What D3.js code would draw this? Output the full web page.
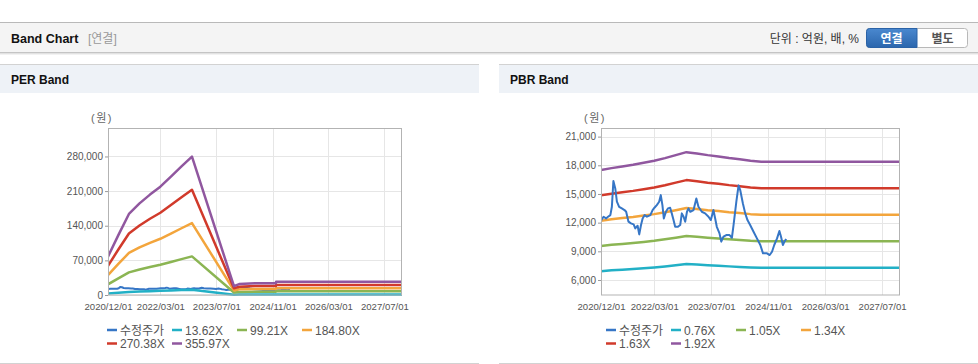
<!DOCTYPE html>
<html><head><meta charset="utf-8">
<script src="https://cdn.jsdelivr.net/npm/d3@7"></script>
<style>
html,body{margin:0;padding:0;background:#fff;overflow:hidden;}
svg text{font-family:"Liberation Sans","Noto Sans CJK KR",Arial,sans-serif;}
</style></head><body>
<svg id="c" width="978" height="364"></svg>
<script>
// ---------- DATA ----------
const xTickLabels = ["2020/12/01","2022/03/01","2023/07/01","2024/11/01","2026/03/01","2027/07/01"];
const seriesColors = ["#3676c6","#22b0c6","#8bb553","#f3a53c","#d13a2b","#90579f"];

const perLegend = ["수정주가","13.62X","99.21X","184.80X","270.38X","355.97X"];
const perDates = ["2020-12-01","2021-03-01","2021-06-01","2021-09-01","2021-12-01","2022-03-01","2022-06-01","2022-09-01","2022-12-01","2023-12-01","2024-01-15","2024-06-01","2024-11-30","2024-12-01","2027-12-01"];
const per1362 = [2969,4631,6265,7082,7763,8376,9153,9943,10705,681,844,906,906,1022,1022];
const per9921 = [21628,33731,45637,51589,56550,61014,66669,72423,77979,4961,6151,6597,6597,7441,7441];
const per18480 = [40286,62832,85008,96096,105336,113652,124186,134904,145253,9240,11458,12289,12289,13860,13860];
const per27038 = [58943,91929,124375,140598,154117,166284,181695,197377,212519,13519,16764,17980,17980,20279,20279];
const per35597 = [77601,121030,163746,185104,202903,218922,239212,259858,279792,17799,22070,23672,23672,26698,26698];
const perYTicks = [0,70000,140000,210000,280000];

const pbrLegend = ["수정주가","0.76X","1.05X","1.34X","1.63X","1.92X"];
const pbrDates = ["2020-12-01","2021-03-01","2021-06-01","2021-09-01","2021-12-01","2022-03-01","2022-06-01","2022-09-01","2022-12-01","2023-03-01","2023-06-01","2023-09-01","2023-12-01","2024-03-01","2024-06-01","2024-09-01","2027-12-01"];
const pbr076 = [6925,7008,7076,7146,7228,7311,7421,7546,7670,7614,7546,7494,7425,7372,7311,7270,7270];
const pbr105 = [9568,9682,9777,9872,9987,10101,10253,10425,10597,10520,10425,10353,10259,10185,10101,10044,10044];
const pbr134 = [12210,12356,12477,12599,12745,12891,13085,13305,13523,13425,13305,13212,13092,12998,12891,12818,12818];
const pbr163 = [14853,15030,15177,15325,15503,15681,15917,16184,16450,16331,16184,16072,15925,15811,15681,15593,15593];
const pbr192 = [17495,17704,17877,18052,18261,18470,18749,19064,19377,19236,19064,18931,18758,18624,18470,18367,18367];
const pbrYTicks = [6000,9000,12000,15000,18000,21000];

const priceDates = ["2020-12-03","2020-12-23","2021-01-13","2021-01-30","2021-02-19","2021-03-04","2021-03-17","2021-04-02","2021-04-16","2021-05-05","2021-05-28","2021-06-20","2021-07-04","2021-07-24","2021-08-14","2021-09-06","2021-09-20","2021-10-10","2021-10-24","2021-11-08","2021-11-22","2021-12-09","2021-12-29","2022-01-27","2022-02-15","2022-03-03","2022-03-23","2022-04-12","2022-04-26","2022-05-10","2022-05-22","2022-06-09","2022-06-26","2022-07-15","2022-07-29","2022-08-13","2022-08-27","2022-09-20","2022-10-09","2022-10-23","2022-11-07","2022-11-21","2022-12-06","2022-12-19","2023-01-03","2023-01-31","2023-02-24","2023-03-14","2023-04-12","2023-05-10","2023-06-08","2023-06-28","2023-07-20","2023-08-04","2023-08-18","2023-09-10","2023-09-25","2023-10-14","2023-11-07","2023-12-05","2023-12-25","2024-01-08","2024-02-01","2024-02-20","2024-03-05","2024-03-28","2024-04-17","2024-05-06","2024-05-29","2024-06-27","2024-07-26","2024-08-24","2024-09-16","2024-10-20","2024-11-12","2024-12-02","2024-12-21","2025-01-14","2025-02-03","2025-02-17","2025-03-05","2025-03-18","2025-04-02"];
const priceValues = [12270,12620,12440,12620,12790,13660,16350,15580,14190,13660,13490,13320,13140,12100,11920,11820,11400,11680,10770,11750,12440,12790,12620,12790,13320,13560,13840,14190,14880,13840,12440,13140,13490,13560,12970,12270,11570,11570,11750,12970,12620,12100,13140,13490,13140,13320,14530,13660,13140,12970,12620,12270,13320,12440,11570,10880,10010,10530,10700,10700,10420,11750,14190,15900,15410,14010,12970,12270,11750,11050,10350,9660,8790,8790,8610,8960,9660,10350,11120,10530,9660,10010,10290];

// ---------- DRAW ----------
const svg = d3.select("#c");
const parse = d3.timeParse("%Y-%m-%d");
const parseTick = d3.timeParse("%Y/%m/%d");

// Top header bar
svg.append("rect").attr("x",0).attr("y",22).attr("width",978).attr("height",31).attr("fill","#f4f4f4");
svg.append("line").attr("x1",0).attr("x2",978).attr("y1",22.5).attr("y2",22.5).attr("stroke","#b9b9b9");
svg.append("line").attr("x1",0).attr("x2",978).attr("y1",52.5).attr("y2",52.5).attr("stroke","#c4c4c4");
svg.append("line").attr("x1",0).attr("x2",978).attr("y1",53.5).attr("y2",53.5).attr("stroke","#e2e2e2");
svg.append("line").attr("x1",0).attr("x2",978).attr("y1",54.5).attr("y2",54.5).attr("stroke","#f2f2f2");
svg.append("text").attr("x",11).attr("y",43).attr("font-size","12.5px").attr("font-weight","bold").attr("fill","#111").text("Band Chart");
svg.append("text").attr("x",88).attr("y",43).attr("font-size","12px").attr("fill","#999").text("[연결]");
svg.append("text").attr("x",859).attr("y",43).attr("text-anchor","end").attr("font-size","12px").attr("fill","#333").text("단위 : 억원, 배, %");
const grad = svg.append("defs").append("linearGradient").attr("id","btn").attr("x1",0).attr("x2",0).attr("y1",0).attr("y2",1);
grad.append("stop").attr("offset","0%").attr("stop-color","#4a88cf");
grad.append("stop").attr("offset","100%").attr("stop-color","#2b66ad");
svg.append("rect").attr("x",866.5).attr("y",28.5).attr("width",101).attr("height",19).attr("rx",3).attr("fill","#fff").attr("stroke","#b8b8b8");
svg.append("path").attr("d","M869.5,28.5 H917 V47.5 H869.5 Q866.5,47.5 866.5,44.5 V31.5 Q866.5,28.5 869.5,28.5 Z").attr("fill","url(#btn)").attr("stroke","#2a62a6");
svg.append("text").attr("x",891.5).attr("y",42.5).attr("text-anchor","middle").attr("font-size","12px").attr("font-weight","bold").attr("fill","#fff").text("연결");
svg.append("text").attr("x",942.5).attr("y",42.5).attr("text-anchor","middle").attr("font-size","12px").attr("font-weight","bold").attr("fill","#555").text("별도");

function drawPanel(o) {
  const g = svg.append("g");
  g.append("rect").attr("x",o.px).attr("y",64).attr("width",o.pw).attr("height",29).attr("fill","#eef2f7");
  g.append("line").attr("x1",o.px).attr("x2",o.px+o.pw).attr("y1",64.5).attr("y2",64.5).attr("stroke","#d2d2d2");
  g.append("line").attr("x1",o.px).attr("x2",o.px+o.pw).attr("y1",363.5).attr("y2",363.5).attr("stroke","#d2d2d2");
  g.append("text").attr("x",o.px+11).attr("y",84).attr("font-size","12px").attr("font-weight","bold").attr("fill","#111").text(o.title);

  const x = d3.scaleTime().domain([parse("2020-12-01"), parse("2027-12-01")]).range([o.left, o.right]);
  const y = d3.scaleLinear().domain(o.yDomain).range([295, 128.5]);

  // grid
  const xt = xTickLabels.map(parseTick);
  g.append("g").selectAll("line").data(xt).join("line")
    .attr("x1",d=>Math.round(x(d))+0.5).attr("x2",d=>Math.round(x(d))+0.5).attr("y1",128.5).attr("y2",295)
    .attr("stroke","#e6e6e6");
  g.append("g").selectAll("line").data(o.yTicks).join("line")
    .attr("x1",o.left).attr("x2",o.right).attr("y1",d=>Math.round(y(d))+0.5).attr("y2",d=>Math.round(y(d))+0.5)
    .attr("stroke","#e6e6e6");

  // axes
  const ya = g.append("g").attr("transform",`translate(${o.left},0)`)
    .call(d3.axisLeft(y).tickValues(o.yTicks).tickSize(3).tickPadding(2).tickFormat(d3.format(",")));
  ya.select(".domain").remove();
  ya.selectAll("line").attr("stroke","#999");
  ya.selectAll("text").attr("font-size","10px").attr("fill","#555").attr("font-family",null);
  const xa = g.append("g").attr("transform",`translate(0,295)`)
    .call(d3.axisBottom(x).tickValues(xt).tickSize(0).tickPadding(8).tickFormat(d3.timeFormat("%Y/%m/%d")));
  xa.select(".domain").remove();
  xa.selectAll("text").attr("font-size","9.6px").attr("fill","#555").attr("font-family",null);

  g.append("text").attr("x",o.left-6).attr("y",122).attr("text-anchor","middle").attr("font-size","11px").attr("fill","#666").attr("letter-spacing","1.5px").text("(원)");

  // lines
  const clipId = "clip"+o.px;
  g.append("clipPath").attr("id",clipId).append("rect").attr("x",o.left).attr("y",128).attr("width",o.right-o.left).attr("height",168);
  const lg = g.append("g").attr("clip-path",`url(#${clipId})`);
  const line = d3.line().x(d=>x(d[0])).y(d=>y(d[1]));
  const priceData = priceDates.map((d,i)=>[parse(d), priceValues[i]]);
  const bandDates = o.dates.map(parse);
  const all = [priceData].concat(o.bands.map(b => bandDates.map((d,i)=>[d,b[i]])));
  const order = o.priceOnTop ? [1,2,3,4,5,0] : [0,1,2,3,4,5];
  order.forEach(k => {
    lg.append("path").datum(all[k]).attr("d",line).attr("fill","none")
      .attr("stroke",seriesColors[k]).attr("stroke-width", k===0 ? 2 : 2.5).attr("stroke-linejoin","round");
  });

  g.append("rect").attr("x",o.left+0.5).attr("y",128.5).attr("width",o.right-o.left-1).attr("height",166.5)
    .attr("fill","none").attr("stroke","#b3b3b3");

  // legend
  const lgX = o.legendX;
  o.legend.forEach((t,i) => {
    const col = i%4, row = Math.floor(i/4);
    const lx = lgX + col*65, ly = 330 + row*13.5;
    g.append("line").attr("x1",lx).attr("x2",lx+10).attr("y1",ly).attr("y2",ly).attr("stroke",seriesColors[i]).attr("stroke-width",2.5);
    g.append("text").attr("x",lx+13).attr("y",ly+4.5).attr("font-size","12px").attr("fill","#555").text(t);
  });
}

drawPanel({px:0,pw:479,title:"PER Band",left:108,right:402,yDomain:[0,336500],yTicks:perYTicks,
  dates:perDates,bands:[per1362,per9921,per18480,per27038,per35597],legend:perLegend,legendX:107,priceOnTop:false});
drawPanel({px:499,pw:479,title:"PBR Band",left:601,right:900,yDomain:[4430,21850],yTicks:pbrYTicks,
  dates:pbrDates,bands:[pbr076,pbr105,pbr134,pbr163,pbr192],legend:pbrLegend,legendX:606,priceOnTop:true});
</script>
</body></html>
